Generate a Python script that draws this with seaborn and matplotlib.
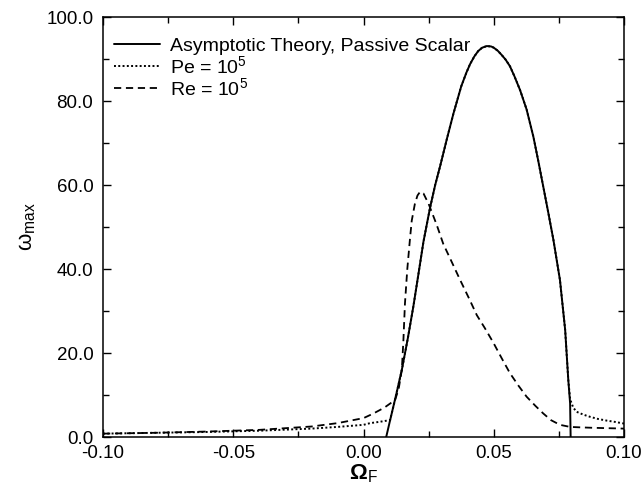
import numpy as np
import pandas as pd
import matplotlib
matplotlib.use("Agg")
import matplotlib.pyplot as plt
from matplotlib.ticker import MultipleLocator, FormatStrFormatter
import seaborn as sns

# --- data ---
theory_x = [0.0087, 0.0102, 0.0125, 0.0147, 0.0170, 0.0191, 0.0210, 0.0230, 0.0255, 0.0275,
            0.0294, 0.0320, 0.0345, 0.0375, 0.0395, 0.0409, 0.0425, 0.0440, 0.0455, 0.0473,
            0.0490, 0.0500, 0.0515, 0.0530, 0.0545, 0.0562, 0.0580, 0.0601, 0.0626, 0.0652,
            0.0670, 0.0690, 0.0709, 0.0729, 0.0754, 0.0774, 0.0786, 0.0793, 0.0795]
theory_y = [0.0, 4.0, 10.0, 16.0, 23.5, 31.0, 38.5, 46.5, 54.5, 60.0,
            64.5, 71.0, 77.0, 83.5, 86.8, 88.8, 90.6, 91.9, 92.7, 93.1,
            93.0, 92.7, 92.0, 91.0, 89.9, 88.3, 85.8, 82.6, 78.0, 71.5,
            66.0, 59.6, 53.5, 46.9, 37.4, 25.5, 13.6, 8.0, 0.0]

pe_x = [-0.100, -0.080, -0.060, -0.040, -0.020, -0.010, 0.000, 0.0025, 0.0060, 0.0090,
        0.0102, 0.0125, 0.0147, 0.0170, 0.0191, 0.0210, 0.0230, 0.0255, 0.0275, 0.0294,
        0.0320, 0.0345, 0.0375, 0.0395, 0.0409, 0.0425, 0.0440, 0.0455, 0.0473, 0.0490,
        0.0500, 0.0515, 0.0530, 0.0545, 0.0562, 0.0580, 0.0601, 0.0626, 0.0652, 0.0670,
        0.0690, 0.0709, 0.0729, 0.0754, 0.0774, 0.0786, 0.0793, 0.0805, 0.0818, 0.0845,
        0.0870, 0.0900, 0.0934, 0.0965, 0.1000]
pe_y = [0.8, 1.0, 1.2, 1.5, 2.0, 2.4, 2.9, 3.3, 3.6, 3.9,
        4.0, 10.0, 16.0, 23.5, 31.0, 38.5, 46.5, 54.5, 60.0, 64.5,
        71.0, 77.0, 83.5, 86.8, 88.8, 90.6, 91.9, 92.7, 93.1, 93.0,
        92.7, 92.0, 91.0, 89.9, 88.3, 85.8, 82.6, 78.0, 71.5, 66.0,
        59.6, 53.5, 46.9, 37.4, 25.5, 13.6, 9.0, 7.0, 6.0, 5.3,
        4.8, 4.3, 3.9, 3.6, 3.2]

re_x = [-0.100, -0.080, -0.060, -0.040, -0.020, -0.010, 0.000, 0.0038, 0.0080, 0.0121,
        0.0135, 0.0147, 0.0153, 0.0159, 0.0168, 0.0178, 0.0185, 0.0197, 0.0207, 0.0217,
        0.0230, 0.0250, 0.0281, 0.0306, 0.0340, 0.0370, 0.0405, 0.0435, 0.0465, 0.0498,
        0.0530, 0.0562, 0.0595, 0.0626, 0.0660, 0.0690, 0.0720, 0.0754, 0.0793, 0.0831,
        0.0876, 0.1000]
re_y = [0.8, 1.0, 1.3, 1.7, 2.5, 3.3, 4.5, 5.6, 7.0, 8.8,
        11.5, 16.0, 23.0, 31.8, 40.0, 47.0, 51.5, 55.5, 57.5, 58.4,
        58.0, 55.5, 50.5, 46.0, 41.5, 37.5, 33.0, 29.0, 26.0, 22.5,
        18.8, 15.2, 12.2, 9.6, 7.4, 5.6, 4.0, 2.9, 2.4, 2.3,
        2.2, 2.0]

labels = ["Asymptotic Theory, Passive Scalar", r"Pe = 10$^5$", r"Re = 10$^5$"]
x_ticks = [-0.10, -0.05, 0.00, 0.05, 0.10]
y_ticks = [0, 20, 40, 60, 80, 100]

sns.set_style("ticks")
plt.rcParams['font.family'] = ['Liberation Sans', 'DejaVu Sans']
plt.rcParams['mathtext.fontset'] = 'custom'
plt.rcParams['mathtext.rm'] = 'Liberation Sans'
plt.rcParams['mathtext.it'] = 'Liberation Sans:italic'
plt.rcParams['mathtext.bf'] = 'Liberation Sans:bold'
for k in ['text.color', 'axes.labelcolor', 'xtick.color', 'ytick.color', 'axes.edgecolor']:
    plt.rcParams[k] = 'black'

fig = plt.figure(figsize=(6.44, 4.88), dpi=100)
ax = fig.add_axes([0.16, 0.1045, 0.809, 0.8605])

d1 = pd.DataFrame({"x": theory_x, "y": theory_y})
d2 = pd.DataFrame({"x": pe_x, "y": pe_y})
d3 = pd.DataFrame({"x": re_x, "y": re_y})

sns.lineplot(data=d2, x="x", y="y", ax=ax, color="black", lw=1.4, sort=False,
             estimator=None, label=labels[1], linestyle=(0, (1, 1.2)))
sns.lineplot(data=d3, x="x", y="y", ax=ax, color="black", lw=1.3, sort=False,
             estimator=None, label=labels[2], linestyle=(0, (4, 2.6)))
sns.lineplot(data=d1, x="x", y="y", ax=ax, color="black", lw=1.4, sort=False,
             estimator=None, label=labels[0])

ax.set_xlim(-0.10, 0.10)
ax.set_ylim(0, 100)
ax.set_xticks(x_ticks)
ax.set_yticks(y_ticks)
ax.xaxis.set_major_formatter(FormatStrFormatter('%.2f'))
ax.yaxis.set_major_formatter(FormatStrFormatter('%.1f'))
ax.xaxis.set_minor_locator(MultipleLocator(0.025))
ax.yaxis.set_minor_locator(MultipleLocator(10))
ax.tick_params(which='both', direction='in', top=True, right=True, labelsize=13.5,
               color='black', labelcolor='black', width=1.0)
ax.tick_params(which='major', length=6)
ax.tick_params(axis='x', which='major', pad=6)
ax.tick_params(axis='y', which='major', pad=7)
ax.tick_params(which='minor', length=4)
for s in ax.spines.values():
    s.set_linewidth(1.1)
    s.set_color('black')

ax.set_xlabel(r"Ω$_{\rm F}$", fontsize=16, fontweight='bold', labelpad=0)
ax.set_ylabel(r"ω$_{\rm max}$", fontsize=16, labelpad=6)

handles, labs = ax.get_legend_handles_labels()
order = [labs.index(l) for l in labels]
leg = ax.legend([handles[i] for i in order], [labs[i] for i in order],
                loc='upper left', bbox_to_anchor=(-0.008, 0.988),
                frameon=False, fontsize=14, handlelength=2.35,
                handletextpad=0.5, labelspacing=0.0, borderaxespad=0.5,
                borderpad=0.3)

fig.savefig("out.png", dpi=100)
